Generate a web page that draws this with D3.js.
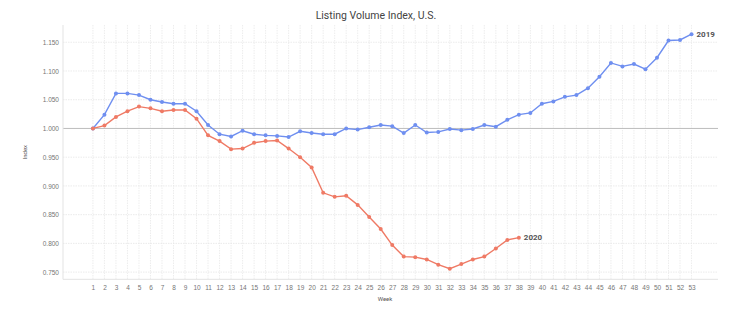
<!DOCTYPE html>
<html>
<head>
<meta charset="utf-8">
<script src="https://cdn.jsdelivr.net/npm/d3@7"></script>
<style>
  html, body { margin: 0; padding: 0; background: #fff; }
  svg { display: block; font-family: Roboto, "Open Sans", sans-serif; }
</style>
</head>
<body>
<svg id="chart" width="739" height="326"></svg>
<script>
// Weekly listing volume index, indexed to week 1
const weeks = d3.range(1, 54);
const yTicks = [0.75, 0.80, 0.85, 0.90, 0.95, 1.00, 1.05, 1.10, 1.15];

const values2019 = [
  1.000, 1.024, 1.061, 1.061, 1.058, 1.050, 1.046, 1.043, 1.043, 1.030,
  1.006, 0.990, 0.986, 0.996, 0.990, 0.988, 0.987, 0.985, 0.995, 0.992,
  0.990, 0.990, 1.000, 0.998, 1.002, 1.006, 1.004, 0.992, 1.006, 0.993,
  0.994, 0.999, 0.997, 0.999, 1.006, 1.003, 1.015, 1.024, 1.027, 1.043,
  1.047, 1.055, 1.058, 1.070, 1.090, 1.114, 1.108, 1.112, 1.103, 1.123,
  1.153, 1.154, 1.164
];

const values2020 = [
  1.000, 1.005, 1.020, 1.030, 1.038, 1.035, 1.030, 1.032, 1.032, 1.017,
  0.988, 0.978, 0.964, 0.965, 0.975, 0.978, 0.979, 0.965, 0.950, 0.932,
  0.888, 0.881, 0.883, 0.867, 0.846, 0.825, 0.797, 0.777, 0.776, 0.772,
  0.763, 0.756, 0.764, 0.772, 0.777, 0.791, 0.806, 0.810
];

const series = [
  { name: "2019", values: values2019, color: "#6f8ff0" },
  { name: "2020", values: values2020, color: "#ef7a65" }
];

const svg = d3.select("#chart");
const margin = { left: 63, right: 21, top: 25, bottom: 46.7 };
const W = 739, H = 326;

const x = d3.scaleLinear().domain([-1.6, 55.3]).range([margin.left, W - margin.right]);
const y = d3.scaleLinear().domain([0.7375, 1.18]).range([H - margin.bottom, margin.top]);

// Gridlines
const grid = svg.append("g");
grid.selectAll("line.v").data(weeks).join("line")
  .attr("x1", d => x(d)).attr("x2", d => x(d))
  .attr("y1", margin.top).attr("y2", H - margin.bottom)
  .attr("stroke", "#e8e8e8").attr("stroke-width", 0.8)
  .attr("stroke-dasharray", "1.5,1");
grid.selectAll("line.h").data(yTicks.filter(v => v !== 1)).join("line")
  .attr("x1", margin.left).attr("x2", W - margin.right)
  .attr("y1", d => y(d)).attr("y2", d => y(d))
  .attr("stroke", "#e6e6e6").attr("stroke-width", 0.8)
  .attr("stroke-dasharray", "1.5,1");

// Baseline at index 1.000
svg.append("line")
  .attr("x1", margin.left).attr("x2", W - margin.right)
  .attr("y1", y(1)).attr("y2", y(1))
  .attr("stroke", "#bdbdbd").attr("stroke-width", 1);

// Axes
const xAxis = svg.append("g")
  .attr("transform", `translate(0,${H - margin.bottom})`)
  .call(d3.axisBottom(x).tickValues(weeks).tickFormat(d3.format("d")).tickSize(0).tickPadding(6));
const yAxis = svg.append("g")
  .attr("transform", `translate(${margin.left},0)`)
  .call(d3.axisLeft(y).tickValues(yTicks).tickFormat(d3.format(".3f")).tickSize(0).tickPadding(4));

[xAxis, yAxis].forEach(a => {
  a.select(".domain").attr("stroke", "#e3e3e3").attr("stroke-width", 1);
  a.selectAll("text").attr("fill", "#757575").attr("font-size", 6.5);
});
yAxis.select(".domain").attr("d", `M0,${margin.top}V${H - margin.bottom}`);
xAxis.select(".domain").attr("d", `M${margin.left},0H${W - margin.right}`);

// Lines and points
const line = d3.line().x((d, i) => x(weeks[i])).y(d => y(d));
series.forEach(s => {
  svg.append("path")
    .attr("d", line(s.values))
    .attr("fill", "none").attr("stroke", s.color).attr("stroke-width", 1.4);
  svg.append("g").selectAll("circle").data(s.values).join("circle")
    .attr("cx", (d, i) => x(weeks[i])).attr("cy", d => y(d))
    .attr("r", 2).attr("fill", s.color);
  const last = s.values.length - 1;
  svg.append("text")
    .attr("x", x(weeks[last]) + 5).attr("y", y(s.values[last]))
    .attr("dy", "0.35em")
    .attr("font-size", 8).attr("font-weight", "bold").attr("fill", "#555")
    .text(s.name);
});

// Titles
svg.append("text")
  .attr("x", 376).attr("y", 19)
  .attr("text-anchor", "middle").attr("font-size", 10.5).attr("fill", "#444")
  .text("Listing Volume Index, U.S.");
svg.append("text")
  .attr("x", 385).attr("y", 301)
  .attr("text-anchor", "middle").attr("font-size", 6).attr("fill", "#555")
  .text("Week");
svg.append("text")
  .attr("transform", `translate(27,${(margin.top + H - margin.bottom) / 2}) rotate(-90)`)
  .attr("text-anchor", "middle").attr("font-size", 6).attr("fill", "#555")
  .text("Index");
</script>
</body>
</html>
